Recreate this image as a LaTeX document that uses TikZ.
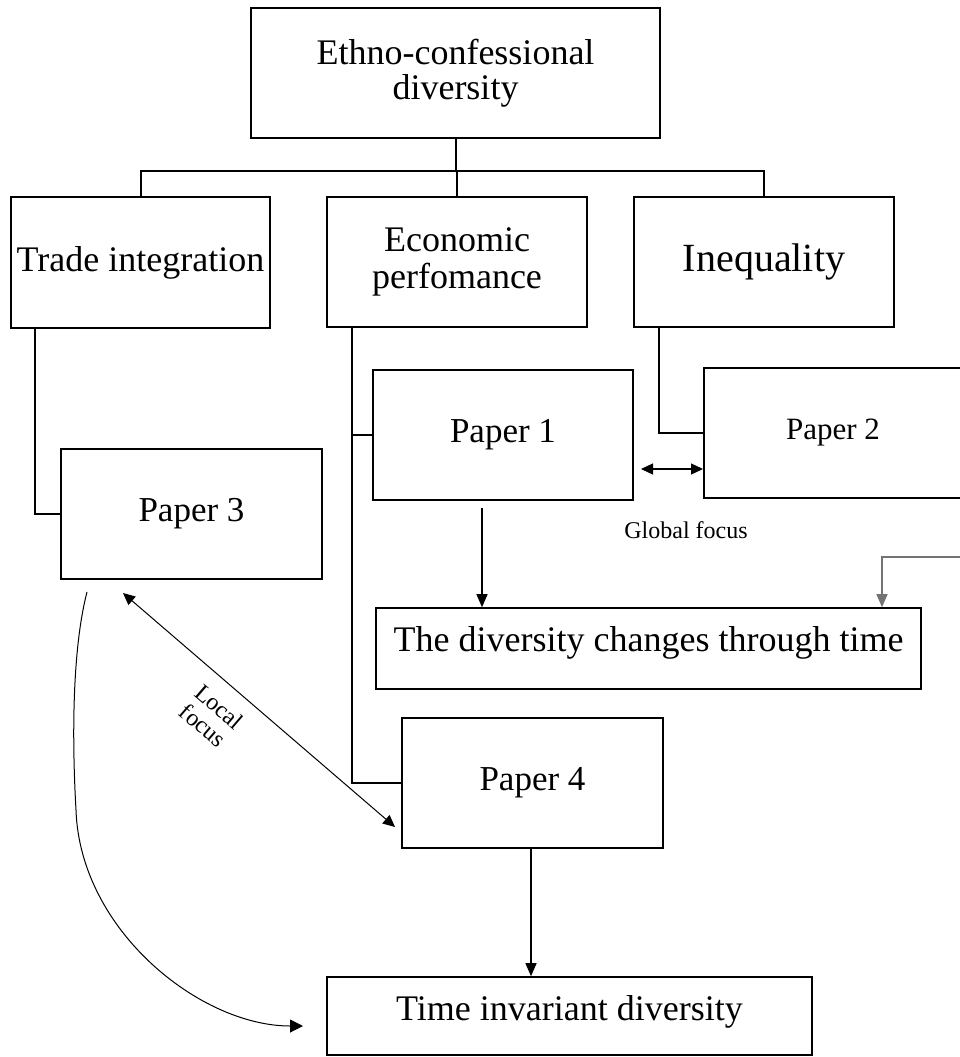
\documentclass[tikz,border=0pt]{standalone}
\usepackage{fontspec}
\setmainfont{Liberation Serif}
\usetikzlibrary{arrows.meta,calc}
\begin{document}
\begin{tikzpicture}[x=1pt,y=-1pt,
  box/.style={draw=black,line width=2pt,inner sep=0pt,align=center,
    font=\fontsize{36}{35}\selectfont},
  tree/.style={draw=black,line width=2pt},
  arr/.style={draw=black,line width=1.3pt,-{Triangle[length=13pt,width=11pt]}},
  darr/.style={draw=black,line width=1.2pt,{Triangle[length=12pt,width=11pt]}-{Triangle[length=12pt,width=11pt]}},
  smalltext/.style={font=\fontsize{24}{25}\selectfont,align=center}]
\useasboundingbox (0,0) rectangle (960,1057);
\fill[white] (0,0) rectangle (960,1057);
% boxes
\node[box,minimum width=409pt,minimum height=130pt] (top) at (455.5,73) {Ethno-confessional\\diversity};
\node[box,minimum width=259pt,minimum height=131pt] (trade) at (140.5,262.5) {Trade integration};
\node[box,minimum width=260pt,minimum height=130pt,font=\fontsize{36}{37}\selectfont] (econ) at (457,262) {Economic\\perfomance};
\node[box,minimum width=260pt,minimum height=130pt,font=\fontsize{40}{40}\selectfont] (ineq) at (764,262) {Inequality};
\node[box,minimum width=261pt,minimum height=130pt,font=\fontsize{35}{35}\selectfont] (p3) at (191.5,514) {Paper 3};
\node[box,minimum width=260pt,minimum height=130pt,font=\fontsize{35}{35}\selectfont] (p1) at (503,435) {Paper 1};
\node[box,minimum width=258pt,minimum height=130pt,font=\fontsize{31}{31}\selectfont] (p2) at (833,433) {Paper 2};
\node[box,line width=1.6pt,minimum width=545pt,text height=43pt,text depth=38pt] (div) at (648.5,648.5) {The diversity changes through time};
\node[box,minimum width=261pt,minimum height=130pt,font=\fontsize{35}{35}\selectfont] (p4) at (532.5,783) {Paper 4};
\node[box,line width=1.6pt,minimum width=485pt,text height=43pt,text depth=35pt] (tinv) at (569.5,1016) {Time invariant diversity};
% tree connectors
\coordinate (bus) at (456,171);
\draw[tree] (top.south) -- (top.south |- bus);
\draw[tree] (trade.north) |- (ineq.north |- bus) -- (ineq.north);
\draw[tree] (econ.north) -- (econ.north |- bus);
\coordinate (tl) at ($(trade.south west)+(25,0)$);
\draw[tree] (tl) |- (p3.west);
\coordinate (el) at ($(econ.south west)+(26,0)$);
\draw[tree] (el) |- (p4.west);
\draw[tree] (el |- p1.west) -- (p1.west);
\coordinate (il) at ($(ineq.south west)+(26,0)$);
\draw[tree] (il) |- (p2.west);
% global focus
\coordinate (ga) at ($(p1.east)+(7,34)$);
\draw[darr] (ga) -- (ga -| p2.west);
\node[smalltext] (gf) at (686,530) {Global focus};
% arrows to diversity box
\coordinate (a1) at ($(p1.south)+(-21,7)$);
\draw[arr] (a1) -- (a1 |- div.north);
\coordinate (g0) at (960,557);
\coordinate (g1) at (882,557);
\draw[arr,draw=black!55,line width=1.2pt] (g0) -- (g1) -- (g1 |- div.north);
% paper 4 to time invariant
\coordinate (a4) at ($(p4.south)+(-1.5,0)$);
\draw[arr] (a4) -- (a4 |- tinv.north);
% local focus
\coordinate (lf1) at (123,593);
\coordinate (lf2) at (395,827);
\draw[darr,line width=1pt] (lf1) -- node[smalltext,pos=0.41,sloped,below=11pt] (lf) {Local\\focus} (lf2);
% curved arrow
\coordinate (c0) at (87,592);
\coordinate (c1) at (303,1026);
\draw[black,line width=1pt,-{Triangle[length=13pt,width=13pt]}] (c0) .. controls (72,650) and (72,740) .. (76,810) .. controls (80,930) and (200,1026) .. (c1);
\end{tikzpicture}
\end{document}
